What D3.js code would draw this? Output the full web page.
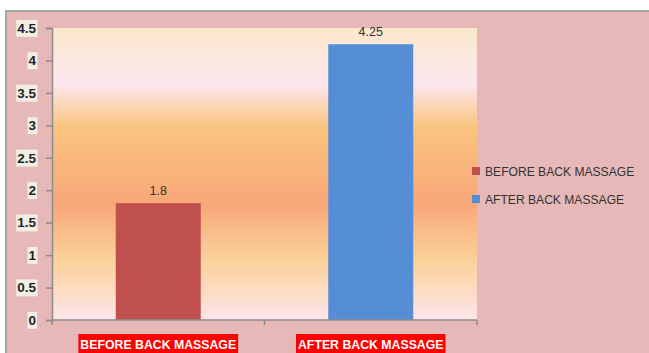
<!DOCTYPE html>
<html>
<head>
<meta charset="utf-8">
<script src="https://cdn.jsdelivr.net/npm/d3@7"></script>
<style>
  body { margin: 0; background: #fff; }
  svg { display: block; font-family: "Liberation Sans", Arial, sans-serif; }
</style>
</head>
<body>
<svg width="649" height="353"></svg>
<script>
// data
var categories = ["BEFORE BACK MASSAGE", "AFTER BACK MASSAGE"];
var values = [1.8, 4.25];
var barColors = ["#c0504d", "#558ed5"];
var yTicks = [0, 0.5, 1, 1.5, 2, 2.5, 3, 3.5, 4, 4.5];

var margin = {top: 28, right: 172, bottom: 33, left: 52};
var width = 649 - margin.left - margin.right;
var height = 353 - margin.top - margin.bottom;

var svg = d3.select('svg');

// outer chart frame
svg.append('rect')
  .attr('x', 6).attr('y', 11)
  .attr('width', 700).attr('height', 400)
  .attr('fill', '#e6b8b8')
  .attr('stroke', '#a6a6a6')
  .attr('stroke-width', 2);

// plot background gradient
var grad = svg.append('defs').append('linearGradient')
  .attr('id', 'bg').attr('x1', 0).attr('y1', 0).attr('x2', 0).attr('y2', 1);
[[0, '#fbe8cb'], [0.19, '#fde7f0'], [0.34, '#f9c47e'], [0.6, '#f8a779'], [0.8, '#fbd29b'], [1, '#fde5ea']]
  .forEach(function(s){ grad.append('stop').attr('offset', s[0]).attr('stop-color', s[1]); });

var g = svg.append('g')
  .attr('transform', 'translate(' + margin.left + ',' + margin.top + ')');

g.append('rect')
  .attr('width', width).attr('height', height)
  .attr('fill', 'url(#bg)');

//Escalas
var xScale = d3.scaleBand().domain(categories).range([0, width]);
var yScale = d3.scaleLinear().domain([0, 4.5]).range([height, 0]);
var barW = xScale.bandwidth() * 0.4;

// bars
g.selectAll('.bar')
  .data(values)
  .enter()
  .append('rect')
  .attr('class', 'bar')
  .attr('x', (d, i) => xScale(categories[i]) + (xScale.bandwidth() - barW) / 2)
  .attr('y', d => yScale(d))
  .attr('width', barW)
  .attr('height', d => height - yScale(d))
  .attr('fill', (d, i) => barColors[i]);

// value labels
g.selectAll('.val')
  .data(values)
  .enter()
  .append('text')
  .attr('x', (d, i) => xScale(categories[i]) + xScale.bandwidth() / 2)
  .attr('y', d => yScale(d) - 8)
  .attr('text-anchor', 'middle')
  .attr('font-size', 12.5)
  .attr('fill', '#333')
  .text(d => d);

// y axis
var yAxis = d3.axisLeft(yScale).tickValues(yTicks).tickSize(6).tickPadding(10)
  .tickFormat(d3.format('~g'));
var yAxisGroup = g.append('g').attr('class', 'yAxis').call(yAxis);
yAxisGroup.select('.domain').attr('stroke', '#8c8c8c').attr('stroke-width', 1.5);
yAxisGroup.selectAll('line').attr('stroke', '#8c8c8c').attr('stroke-width', 1.5);
yAxisGroup.selectAll('text')
  .attr('font-size', 13.5).attr('font-weight', 'bold').attr('fill', '#1f1f2e')
  .attr('font-family', '"Liberation Sans", Arial, sans-serif');
yAxisGroup.selectAll('.tick').each(function(){
  var t = d3.select(this).select('text');
  var b = t.node().getBBox();
  d3.select(this).insert('rect', 'text')
    .attr('x', b.x - 1).attr('y', b.y - 1)
    .attr('width', b.width + 2).attr('height', b.height + 2)
    .attr('fill', '#f1efe1');
});

// x axis line with boundary ticks
g.append('line')
  .attr('x1', 0).attr('x2', width).attr('y1', height).attr('y2', height)
  .attr('stroke', '#8c8c8c').attr('stroke-width', 1.5);
var bounds = categories.map(c => xScale(c)).concat([width]);
g.selectAll('.xtick')
  .data(bounds)
  .enter()
  .append('line')
  .attr('x1', d => d).attr('x2', d => d)
  .attr('y1', height).attr('y2', height + 5)
  .attr('stroke', '#8c8c8c').attr('stroke-width', 1.5);

// category labels with red highlight
g.selectAll('.cat')
  .data(categories)
  .enter()
  .append('g')
  .each(function(c){
    var cx = xScale(c) + xScale.bandwidth() / 2;
    var t = d3.select(this).append('text')
      .attr('x', cx).attr('y', height + 29)
      .attr('text-anchor', 'middle')
      .attr('font-size', 12.3).attr('font-weight', 'bold')
      .attr('fill', '#fff')
      .text(c);
    var b = t.node().getBBox();
    d3.select(this).insert('rect', 'text')
      .attr('x', b.x - 2).attr('y', height + 14)
      .attr('width', b.width + 4).attr('height', 22)
      .attr('fill', '#ff0000');
  });

// legend
var legend = svg.append('g').attr('transform', 'translate(472,167)');
categories.forEach(function(c, i){
  var row = legend.append('g').attr('transform', 'translate(0,' + (i * 28) + ')');
  row.append('rect').attr('width', 8).attr('height', 8).attr('fill', barColors[i]);
  row.append('text').attr('x', 13).attr('y', 8.5)
    .attr('font-size', 12.1).attr('fill', '#333')
    .text(c);
});
</script>
</body>
</html>
